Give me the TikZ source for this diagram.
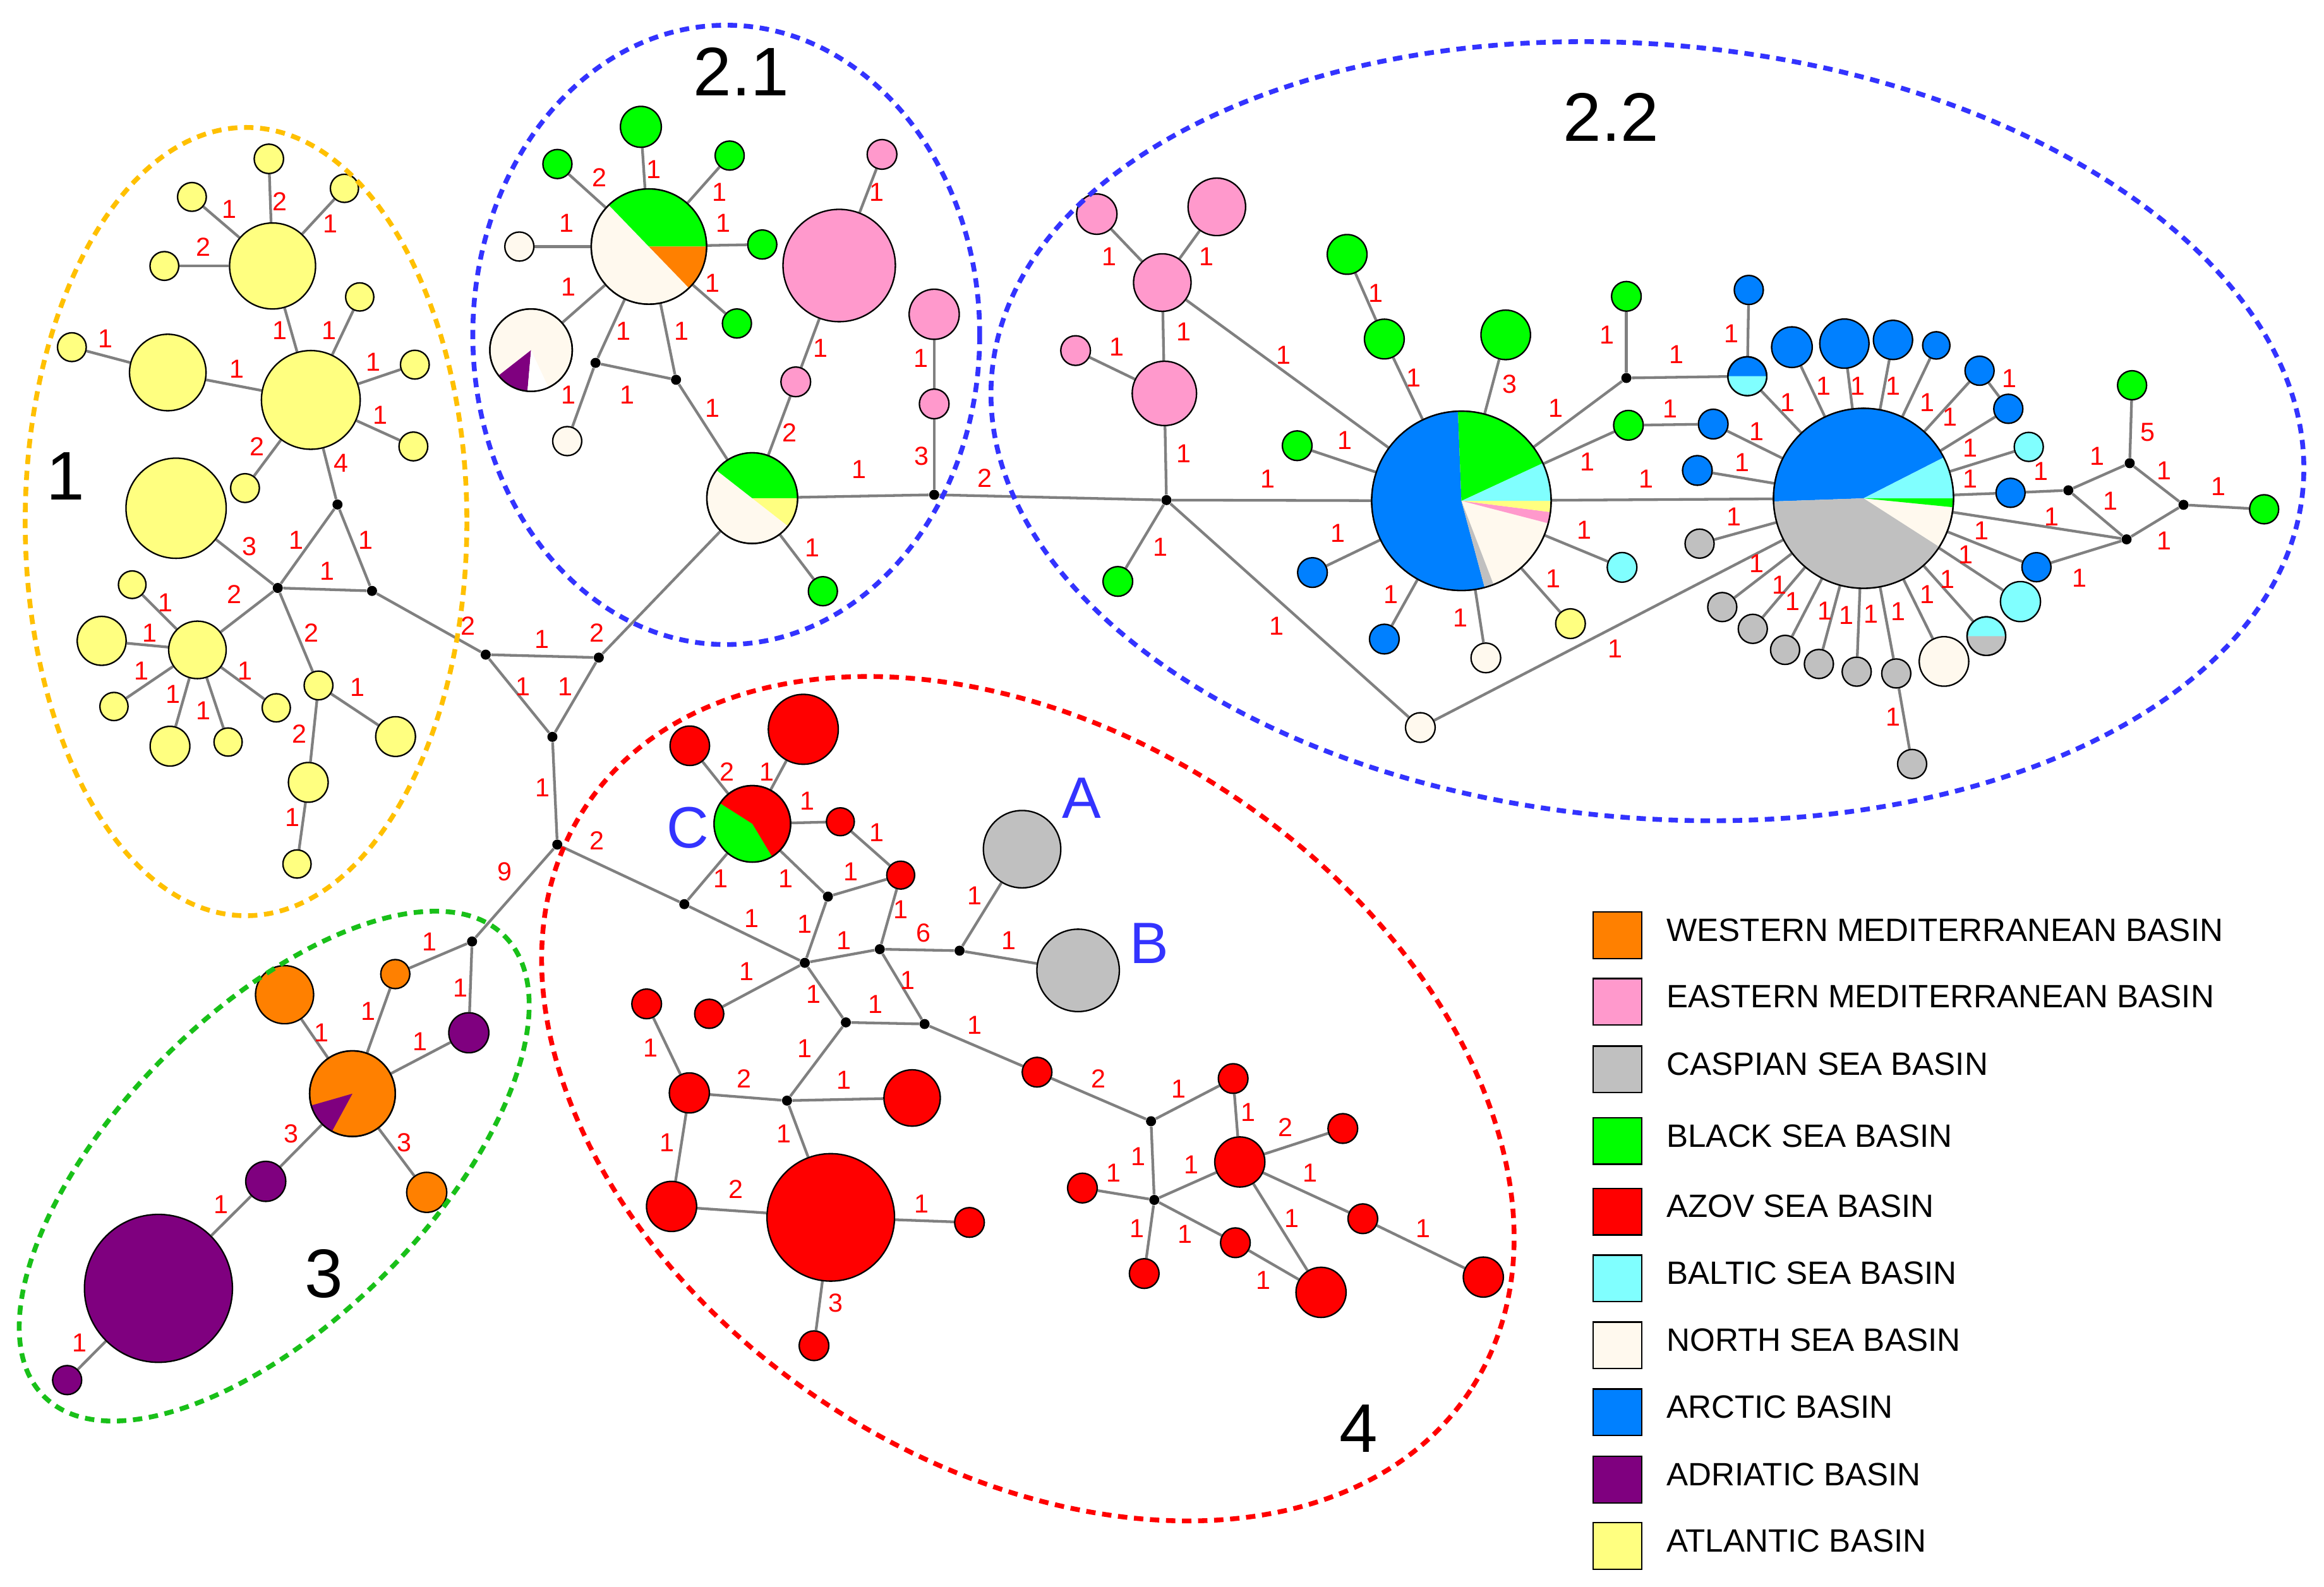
\documentclass[tikz,border=0pt]{standalone}
\usepackage{fontspec}
\setmainfont{Liberation Sans}

\definecolor{wmed}{HTML}{FF8000}
\definecolor{emed}{HTML}{FF99CC}
\definecolor{casp}{HTML}{C0C0C0}
\definecolor{blks}{HTML}{00FF00}
\definecolor{azov}{HTML}{FF0000}
\definecolor{balt}{HTML}{80FFFF}
\definecolor{nsea}{HTML}{FFF9EE}
\definecolor{arct}{HTML}{0080FF}
\definecolor{adri}{HTML}{7F007F}
\definecolor{atla}{HTML}{FFFF80}
\definecolor{edgegray}{HTML}{808080}
\definecolor{ringgold}{HTML}{FFC000}
\definecolor{ringblue}{HTML}{3333FF}
\definecolor{ringgreen}{HTML}{19C019}
\definecolor{letterblue}{HTML}{3333FF}

\pgfdeclarelayer{edges}
\pgfsetlayers{edges,main}

\tikzset{
  hap/.style={circle, draw=black, line width=0.7pt, fill=#1, inner sep=0pt},
  mv/.style={circle, fill=black, inner sep=0pt, minimum size=0.17cm},
  link/.style={draw=edgegray, line width=1.3pt},
  mut/.style={text=red, font=\fontsize{12.5}{12.5}\selectfont, inner sep=0pt},
  clus/.style={font=\fontsize{33}{33}\selectfont, inner sep=0pt},
  letter/.style={text=letterblue, font=\fontsize{28}{28}\selectfont, inner sep=0pt},
  ring/.style={draw=#1, line width=2.3pt, dash pattern=on 4.5pt off 3.2pt},
  legbox/.style={draw=black, line width=0.7pt, minimum width=0.825cm, minimum height=0.785cm, inner sep=0pt},
  legtext/.style={anchor=west, font=\fontsize{15.5}{18}\selectfont, inner sep=0pt}
}

% pie slice of a haplotype: node, radius (px), start, end, colour
\newcommand{\pieslice}[5]{\fill[#5] (#1.center) -- ++(#3:#2*0.025cm) arc[start angle=#3, end angle=#4, radius=#2*0.025cm] -- cycle;}
\newcommand{\pierim}[2]{\draw[line width=0.7pt] (#1.center) circle[radius=#2*0.025cm];}

\begin{document}
\begin{tikzpicture}[x=0.025cm, y=-0.025cm]
\useasboundingbox (0,0) rectangle (1568,1071);

% Haplotypes
\foreach \n/\x/\y/\r/\c in {
  a1/183.9/179.5/29/atla, a1l1/181.4/107.2/9.9/atla, a1l2/129.5/132.9/9.7/atla,
  a1l3/232.4/127.1/9.5/atla, a1l4/110.9/179.5/9.7/atla, a2/209.7/269.9/33.3/atla,
  a2l1/242.7/200.4/9.5/atla, a2l2/279.9/246.1/9.7/atla, a2l3/278.9/301.3/9.7/atla,
  a2l4/165.3/329.4/9.7/atla, a3/113.2/251.4/25.8/atla, a3l1/48.5/234.3/9.7/atla,
  a4/118.8/343/33.8/atla, a5/133.2/438.6/19.4/atla, a5l1/89.2/394.6/9.3/atla,
  a5l2/68.6/432.5/16.5/atla, a5l3/76.9/476.8/9.5/atla, a5l4/114.7/503.6/13.4/atla,
  a5l5/153.9/500.8/9.5/atla, a5l6/186.4/477.7/9.5/atla, a6/214.9/462.6/9.7/atla,
  a6l1/266.9/497.1/13.4/atla, a7/208/528/13.4/atla, a8/200.4/583.1/9.5/atla,
  b1/437.8/166.4/38.9/nsea, b1g1/432.4/85.6/13.8/blks, b1g2/376.1/110.7/9.8/blks,
  b1g3/492.3/105/9.8/blks, b1g4/514.3/165/9.8/blks, b1g5/497.2/218.3/9.8/blks,
  b1w1/350.4/166.4/9.8/nsea, b2/358.3/236.3/27.8/nsea, b2w/382.7/297.7/9.8/nsea,
  b3/507.5/336.2/30.6/nsea, b3g/555.2/399/9.8/blks, b4/566.2/179.2/37.9/emed,
  b4p1/595.1/104.2/10/emed, b4p2/536.9/257.7/10/emed, b5/630.3/212.1/16.9/emed,
  b6/630.3/272.6/10/emed,
  c1/740/144.5/13.6/emed, c2/821/139.6/19.4/emed, c3/784.2/190.7/19.4/emed,
  c4/725.7/236.6/10/emed, c5/785.6/265.5/21.7/emed, c6/754.2/392.4/10/blks,
  c7/958.3/491/10/nsea, d1/986/338/60.5/nsea, dg1/908.9/171.7/13.4/blks,
  dg2/934/228.8/13.4/blks, dg3/1015.9/226/16.7/blks, dg4/875.2/300.8/10/blks,
  db1/885.5/386.4/10/arct, db2/934/431.3/10/arct, dw/1002.5/444/10/nsea,
  dy/1059.6/420.9/10/atla, dc/1094.4/382.9/10/balt, dg5/1097.3/200/10/blks,
  dg6/1098.7/287/10/blks, e1/1257.3/336.3/60.7/nsea, eh/1178.9/253.9/13.1/arct,
  eb0/1179.9/195.7/9.8/arct, eb1/1209/234.3/13.7/arct, eb2/1244.4/231.9/16.6/arct,
  eb3/1277.2/229.4/13.2/arct, eb4/1306.4/233.1/9.2/arct, eb5/1335.6/250.2/9.8/arct,
  eb6/1355/275.9/9.8/arct, ec1/1368.8/301.6/9.8/balt, eb7/1356.5/332.6/9.8/arct,
  eg1/1438.5/260/9.8/blks, eg2/1527.6/343.7/9.8/blks, eb8/1374/382.8/9.8/arct,
  ec2/1363.2/406/13.5/balt, eh2/1340.2/429.3/13/balt, ew/1311.6/446.4/16.7/nsea,
  es1/1146.7/366.9/9.8/casp, es2/1162/409.7/9.8/casp, es3/1182.6/424.4/9.8/casp,
  es4/1204.4/438.6/9.8/casp, es5/1227.2/448.1/9.8/casp, es6/1252.7/453.3/9.8/casp,
  es7/1279.4/454.5/9.8/casp, es8/1290.1/515.6/9.8/casp, eb9/1155.9/286.2/10/arct,
  eb10/1145.2/317.5/10/arct,
  k1/266.7/657.4/9.8/wmed, k2/192/671.3/19.6/wmed, k3/316.3/697/13.5/adri,
  k4/237.8/738.1/28.9/wmed, k5/179.3/797.3/13.5/adri, k6/287.9/804.7/13.5/wmed,
  k7/106.9/869.5/49.9/adri, k8/45.3/931.4/9.8/adri,
  n1/465.4/503.3/13.3/azov, n2/542/492.2/23.6/azov, n3/507.6/556/25.8/azov,
  n4/567/554.6/9.4/azov, n5/607.7/590.6/9.4/azov, nA/689.6/573.1/26.1/casp,
  nB/727.4/654.9/27.8/casp, n6/478.5/684.2/9.8/azov, n7/436.3/677.5/10/azov,
  n8/699.7/723.6/10/azov, n9/465.1/737.6/13.5/azov, n10/615.4/741/19/azov,
  n11/453.1/814.2/16.9/azov, n12/560.5/821.6/43/azov, n13/654.1/825/10/azov,
  n14/549.2/908.2/10/azov, n15/832/727.9/10/azov, n16/836.5/784.2/16.9/azov,
  n17/906/761.6/10/azov, n18/730.3/801.8/10/azov, n19/772/859.5/10/azov,
  n20/833.5/838.7/10/azov, n21/891.3/872.2/16.9/azov, n22/919.5/822.5/10/azov,
  n23/1000.8/861.9/13.5/azov}
  \node[hap=\c, minimum size=\r*0.05cm] (\n) at (\x,\y) {};

% Median vectors
\foreach \n/\x/\y in {j1/227.7/340.5, j2/187.4/396.8, j3/251/398.8,
  jc1/327.7/441.8, jc2/404/443.8, jc3/372.7/497.3, jc4/376/570,
  j21/401.8/244.9, j22/456.1/256.3, j23/630.3/333.9, j24/787/337.5,
  j25/1097.3/255.1, j26/1395.5/330.9, j27/1436.9/312.6, j28/1473.2/340.7,
  j29/1434.8/364, k0/318.5/635.4, m1/461.7/610.2, m2/558.6/605.1,
  m3/543/649.8, m4/593.6/640.6, m5/647.4/641.6, m6/570.7/690,
  m7/623.8/691.1, m8/531/742.8, m9/776.6/756.7, m10/778.8/809.8}
  \node[mv] (\n) at (\x,\y) {};

% Mixed haplotypes
\pieslice{b1}{38.9}{0}{134}{blks}
\pieslice{b1}{38.9}{-46}{0}{wmed}
\pierim{b1}{38.9}
\pieslice{b2}{27.8}{218}{265}{adri}
\pieslice{b2}{27.8}{265}{295}{white}
\pierim{b2}{27.8}
\pieslice{b3}{30.6}{0}{142}{blks}
\pieslice{b3}{30.6}{-38}{0}{atla}
\pierim{b3}{30.6}
\pieslice{d1}{60.5}{92.2}{285}{arct}
\pieslice{d1}{60.5}{285}{291}{casp}
\pieslice{d1}{60.5}{345.5}{352.8}{emed}
\pieslice{d1}{60.5}{352.8}{360}{atla}
\pieslice{d1}{60.5}{0}{24.9}{balt}
\pieslice{d1}{60.5}{24.9}{92.2}{blks}
\pierim{d1}{60.5}
\pieslice{e1}{60.7}{27}{182}{arct}
\pieslice{e1}{60.7}{182}{327.3}{casp}
\pieslice{e1}{60.7}{354.3}{360}{blks}
\pieslice{e1}{60.7}{0}{27}{balt}
\pierim{e1}{60.7}
\pieslice{eh}{13.1}{180}{360}{balt}
\pierim{eh}{13.1}
\pieslice{eh2}{13}{180}{360}{casp}
\pierim{eh2}{13}
\pieslice{k4}{28.9}{196}{241.5}{adri}
\pierim{k4}{28.9}
\pieslice{n3}{25.8}{147.5}{301}{blks}
\pierim{n3}{25.8}

% Connections
\begin{pgfonlayer}{edges}
\foreach \a/\b in {a1/a1l1, a1/a1l2, a1/a1l3, a1/a1l4, a1/a2, a3/a2, a3/a3l1,
  a2/a2l1, a2/a2l2, a2/a2l3, a2/a2l4, a2/j1, j1/j2, j1/j3, j2/j3, a4/j2, j2/a5,
  j2/a6, a5/a5l1, a5/a5l2, a5/a5l3, a5/a5l4, a5/a5l5, a5/a5l6, a6/a6l1, a6/a7,
  a7/a8, j3/jc1, jc1/jc2, jc1/jc3, jc2/jc3, jc3/jc4, jc2/b3, jc4/k0, jc4/m1,
  b1/b1g1, b1/b1g2, b1/b1g3, b1/b1g4, b1/b1g5, b1/b1w1, b1/b2, b1/j21, b1/j22,
  j21/j22, j21/b2w, j22/b3, b3/b3g, b3/b4p2, b4p2/b4, b4/b4p1, b3/j23, j23/b6,
  b6/b5, j23/j24,
  j24/c5, c5/c3, c3/c1, c3/c2, c5/c4, c3/d1, j24/d1, j24/c6, j24/c7, c7/e1,
  d1/dg2, dg2/dg1, d1/dg3, d1/dg4, d1/db1, d1/db2, d1/dw, d1/dy, d1/dc, d1/j25,
  j25/dg5, j25/eh, d1/dg6, dg6/eb9, eb9/e1, eb10/e1, d1/e1, eh/eb0, eh/e1,
  e1/eb1, e1/eb2, e1/eb3, e1/eb4, e1/eb5, eb5/eb6, e1/eb6, e1/ec1, e1/eb7,
  eb7/j26, j26/j27, j26/j29, j27/eg1, j27/j28, j29/j28, j28/eg2, e1/j29, e1/eb8,
  eb8/j29, e1/ec2, e1/eh2, e1/ew, e1/es1, e1/es2, e1/es3, e1/es4, e1/es5, e1/es6,
  e1/es7, es7/es8,
  k0/k1, k0/k3, k1/k4, k2/k4, k3/k4, k4/k5, k4/k6, k5/k7, k7/k8,
  m1/n3, n3/n1, n3/n2, n3/n4, n3/m2, n4/n5, n5/m2, n5/m4, m2/m3, m1/m3, m3/m4,
  m4/m5, m5/nA, m5/nB, m3/n6, m3/m6, m4/m7, m6/m7, m7/n8, n7/n9, n9/m8, m6/m8,
  m8/n10, n8/m9, m9/n15, n9/n11, n11/n12, m8/n12, n12/n13, n12/n14, m9/m10,
  n15/n16, n16/n17, m10/n18, m10/n16, m10/n19, m10/n20, n20/n21, n16/n21,
  n16/n22, n22/n23}
  \draw[link] (\a) -- (\b);
\end{pgfonlayer}

% Mutation counts
\foreach \x/\y/\t [count=\i] in {154.5/141/1, 189/136/2, 222.7/151/1, 137.4/166.5/2,
  71.3/228.6/1, 159.7/248.9/1, 189/223.2/1, 222/223.2/1, 252/244.2/1,
  256.6/280.3/1, 173.5/301.3/2, 230.3/312.7/4, 168.4/369/3, 200/364.5/1,
  246.9/364.5/1, 220.6/385.3/1, 158/401/2, 210.3/427/2, 111.6/406.6/1,
  101.2/427/1, 95.4/452.8/1, 116.7/468.5/1, 137.4/479.6/1, 165.3/452.8/1,
  241.3/463.9/1, 202/495.3/2, 197.3/551.7/1,
  315.9/422.5/2, 365.6/431.4/1, 402.6/427/2, 352.8/463.6/1, 381.3/463.6/1,
  366.3/531.6/1, 340.5/588.4/9, 402.6/567.5/2}
  \node[mut] (la\i) at (\x,\y) {\t};
\foreach \x/\y/\t [count=\i] in {440.9/114.2/1, 404.3/119.9/2, 485.5/129.9/1,
  487.9/150.7/1, 382.2/150.7/1, 383.5/193.5/1, 480.6/191.2/1, 420.6/223.5/1,
  459.8/223.5/1, 423.1/266.3/1, 383.5/266.3/1, 480.6/275.4/1, 547.9/369.6/1,
  591.4/129.9/1, 553.5/234.9/1, 532.7/292/2, 621.3/242/1, 621.7/307.7/3,
  579.7/316.8/1, 664.6/322.5/2}
  \node[mut] (lb\i) at (\x,\y) {\t};
\foreach \x/\y/\t [count=\i] in {748.5/173/1, 814.2/173/1, 798.5/223.9/1,
  753.4/234.2/1, 798.5/306.2/1, 866.1/239.6/1, 782.8/369.3/1, 861.2/422.3/1,
  855.5/323.1/1, 928.3/198/1, 954/255.1/1, 1018.8/259.2/3, 907.5/297.3/1,
  902.6/359.8/1, 938.3/401.4/1, 985.4/416.9/1, 1048.2/390.5/1, 1068.7/357.9/1,
  1071/311.7/1, 1049.6/275.5/1, 1084.4/226/1, 1131.3/239.2/1, 1168.2/225/1,
  1126.7/275.9/1, 1110.8/323.4/1, 1206/271.5/1, 1230.5/260.5/1, 1253.6/260.5/1,
  1277.2/260.5/1, 1300.3/271.5/1, 1315.6/281.3/1, 1355.6/255.6/1, 1329.4/302.1/1,
  1377/318/1, 1329.4/323.4/1, 1414.8/307.7/1, 1449.2/291.8/5, 1460/317.5/1,
  1496.8/328.5/1, 1424/338/1, 1384.1/348.6/1, 1337.1/358.3/1, 1326.4/374.2/1,
  1460/365/1, 1403.2/390.1/1, 1314.1/390.9/1, 1300.3/401.2/1, 1280.9/412.9/1,
  1262.5/414.6/1, 1245.9/415.3/1, 1231.2/412.2/1, 1209.7/406/1, 1200.4/395/1,
  1185.1/380.4/1, 1169.7/348.6/1, 1175.3/311.9/1, 1185.1/291.1/1,
  1277.2/483.8/1, 1089.9/437.8/1}
  \node[mut] (ld\i) at (\x,\y) {\t};
\foreach \x/\y/\t [count=\i] in {289.9/635.4/1, 310.7/666.9/1, 248.3/682.3/1,
  283.3/703.1/1, 217/697/1, 196.4/765/3, 272.8/771.2/3, 149.2/812.7/1,
  53.8/906.2/1}
  \node[mut] (lk\i) at (\x,\y) {\t};
\foreach \x/\y/\t [count=\i] in {490.4/520.8/2, 517.6/520.8/1, 544.5/540.7/1,
  591.4/561.7/1, 574.2/588.3/1, 486.4/593.1/1, 530.1/593.1/1, 507/619.7/1,
  543/623.5/1, 607.7/614/1, 569.5/634.9/1, 623.3/629.8/6, 657.7/604.5/1,
  680.5/634.9/1, 503.6/655.5/1, 549/671.1/1, 612.4/661.6/1, 590.5/677.7/1,
  657.7/692/1, 438.9/707.2/1, 502/728.2/2, 543/707.8/1, 569.5/729.1/1,
  741.1/728.2/2, 795.2/734.8/1, 450.2/771.2/1, 528.9/765.3/1, 496.5/802.5/2,
  621.6/812.3/1, 563.9/879.5/3, 842/750.6/1, 867.2/760.9/2, 768.2/780.5/1,
  751.4/791.5/1, 803.6/786.1/1, 884.1/791.5/1, 871.5/822.1/1, 767/828.9/1,
  799.4/833.1/1, 852.5/864.1/1, 960/828.9/1}
  \node[mut] (ln\i) at (\x,\y) {\t};

% Haplogroups
\draw[ring=ringgold] (166,352) ellipse [x radius=149, y radius=266];
\draw[ring=ringblue] (490,226) ellipse [x radius=171, y radius=209];
\draw[ring=ringblue, rotate around={-5:(1111.5,291)}] (1111.5,291) ellipse [x radius=444, y radius=261];
\draw[ring=ringgreen, rotate around={45:(185,787)}] (185,787) ellipse [x radius=219.7, y radius=104.4];
\draw[ring=red, rotate around={-33.4:(693.5,741.5)}] (693.5,741.5) ellipse [x radius=357.6, y radius=246.8];
\node[clus] (g1) at (44.4,321.2) {1};
\node[clus] (g21) at (500.2,48.5) {2.1};
\node[clus] (g22) at (1087,79) {2.2};
\node[clus] (g3) at (218.5,859.7) {3};
\node[clus] (g4) at (916.5,963.9) {4};
\node[letter] (hA) at (729.6,538.5) {A};
\node[letter] (hB) at (775.5,636.8) {B};
\node[letter] (hC) at (463.9,558.8) {C};

% Legend
\foreach \y/\c/\t [count=\i] in {631.2/wmed/WESTERN MEDITERRANEAN BASIN,
  676.1/emed/EASTERN MEDITERRANEAN BASIN, 721.7/casp/CASPIAN SEA BASIN,
  770/blks/BLACK SEA BASIN, 817.7/azov/AZOV SEA BASIN, 862.8/balt/BALTIC SEA BASIN,
  907.9/nsea/NORTH SEA BASIN, 953.1/arct/ARCTIC BASIN, 998.6/adri/ADRIATIC BASIN,
  1043.3/atla/ATLANTIC BASIN} {
  \node[legbox, fill=\c] (key\i) at (1091.3,\y) {};
  \node[legtext] (txt\i) at (1124.2,\y-3.5) {\t};
}
\end{tikzpicture}
\end{document}
